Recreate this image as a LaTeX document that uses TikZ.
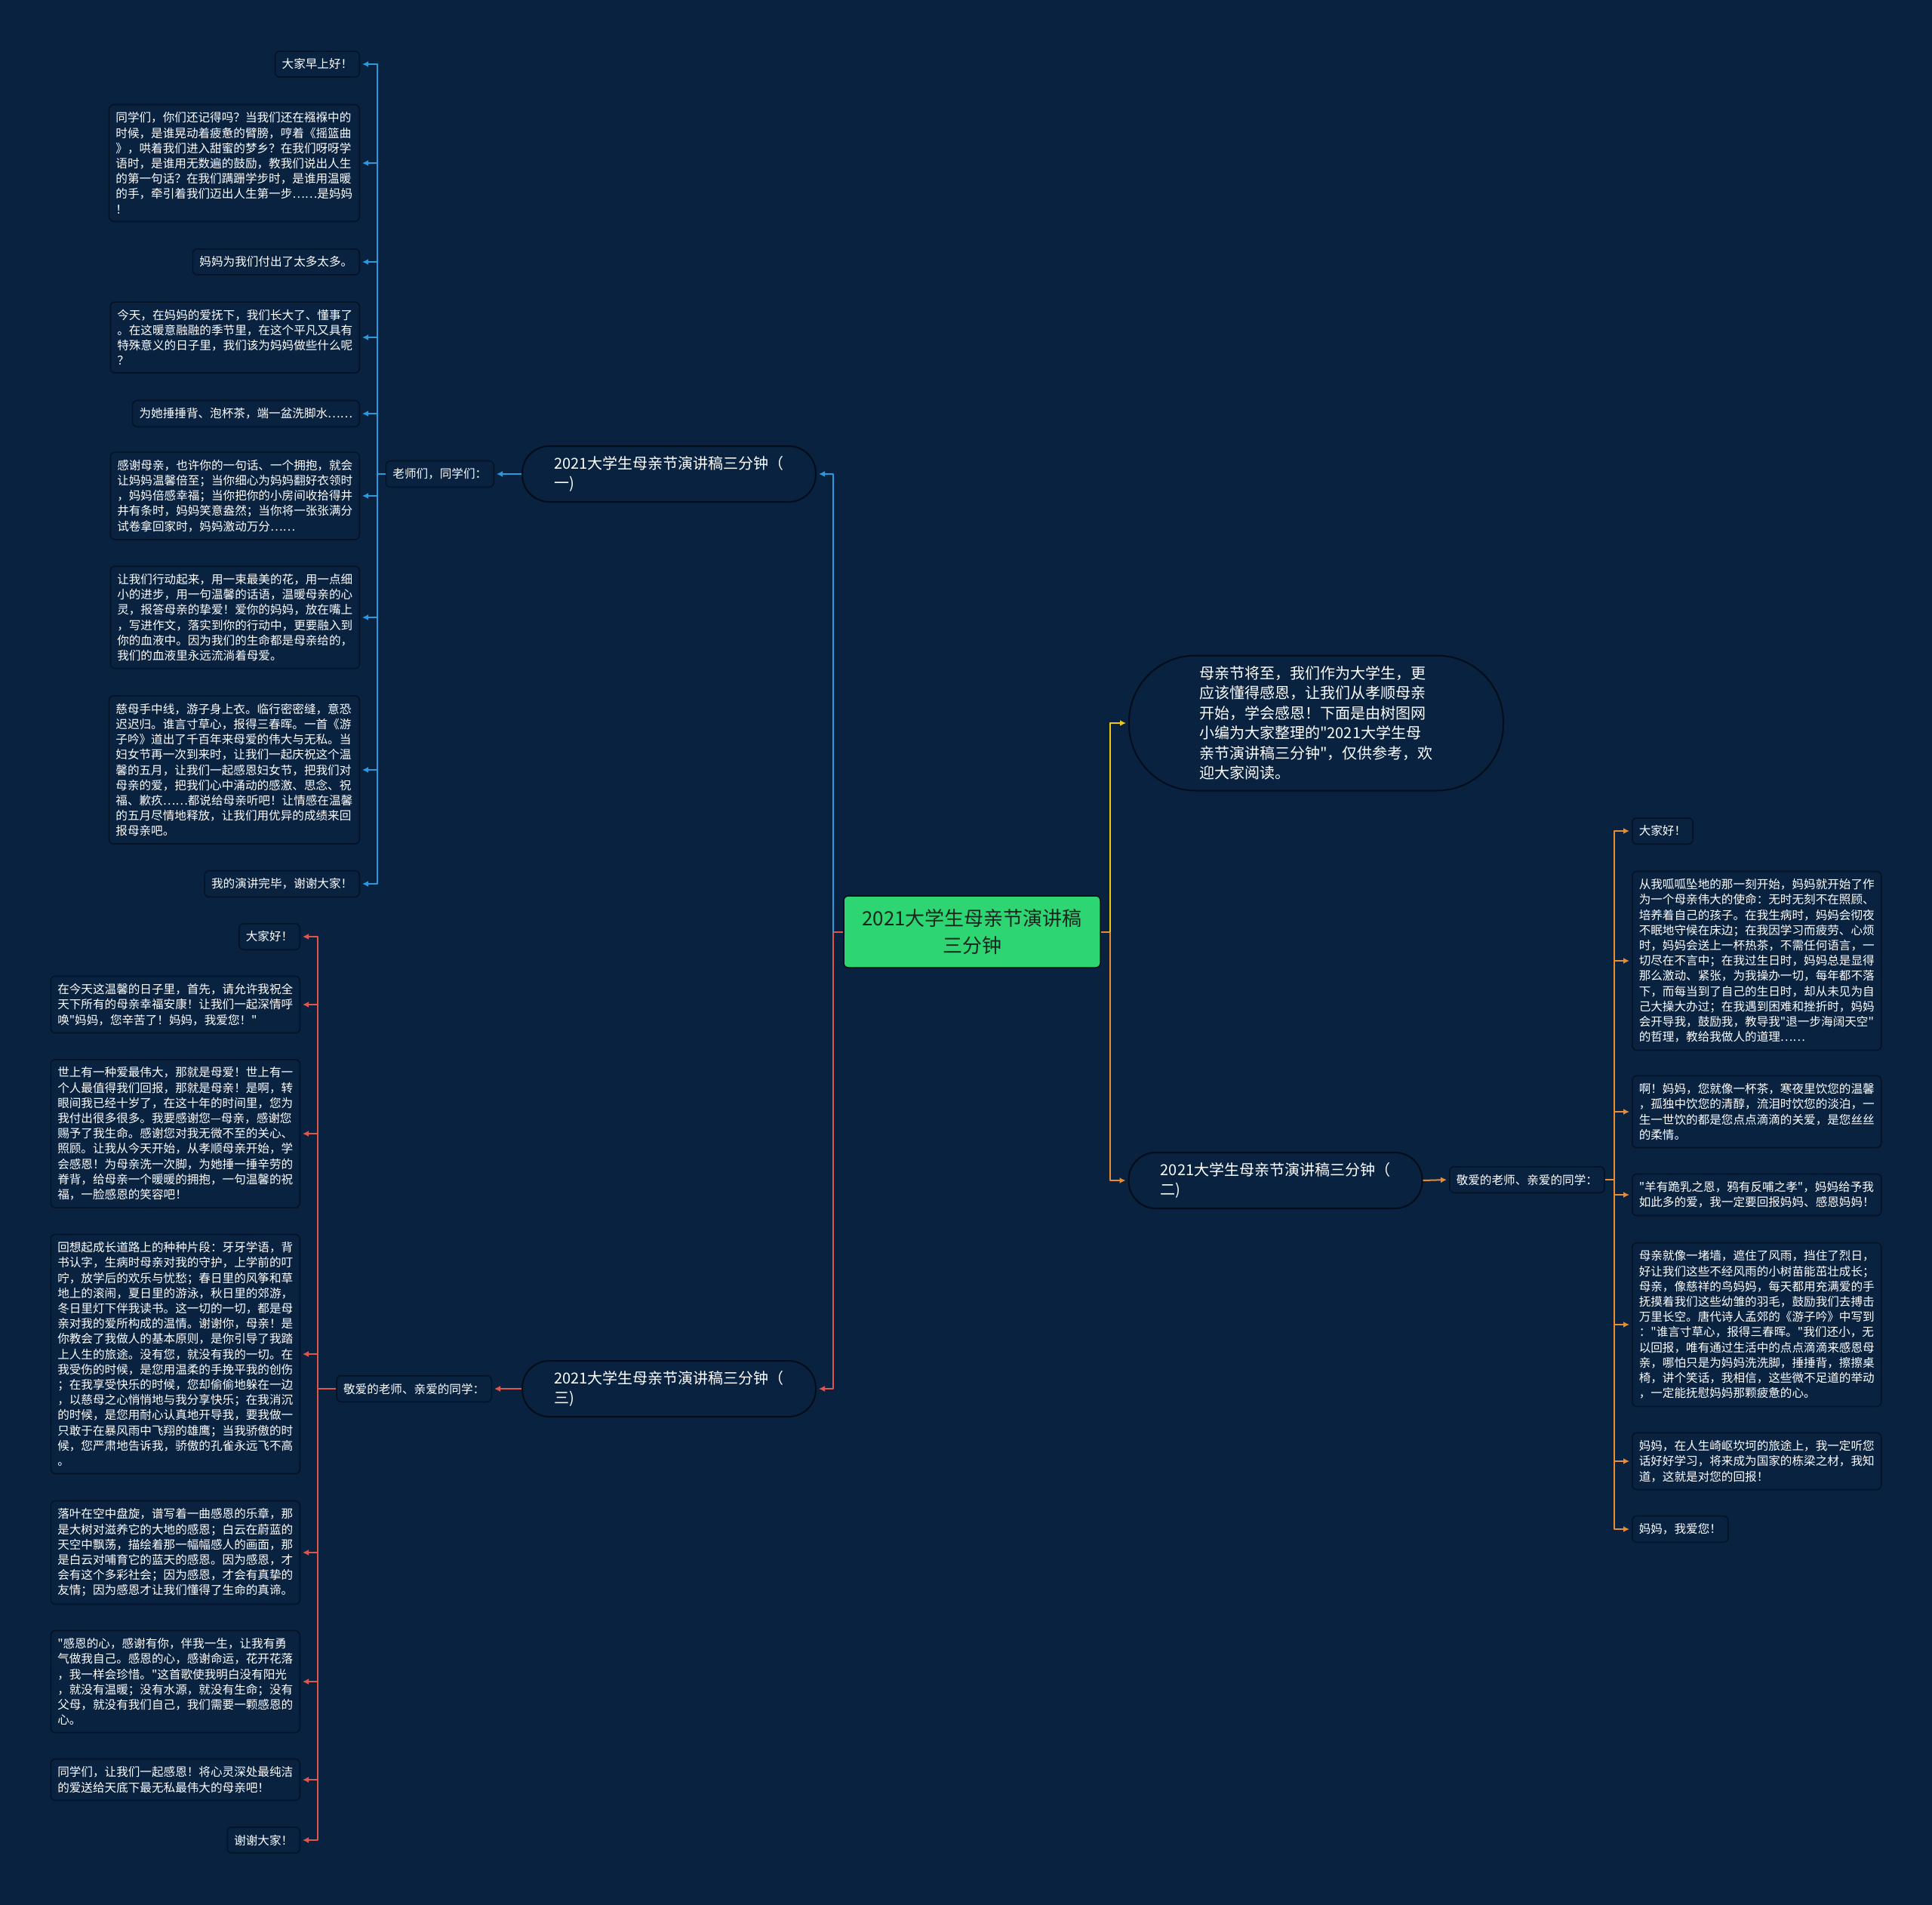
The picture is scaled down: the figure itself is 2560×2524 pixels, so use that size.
\documentclass[tikz,border=0pt]{standalone}
\usepackage{fontspec}
\setmainfont{Noto Sans CJK SC}[Ligatures=TeXOff]
\usetikzlibrary{arrows.meta}
\definecolor{bg}{RGB}{9,34,64}
\definecolor{boxline}{RGB}{4,18,36}
\definecolor{pillline}{RGB}{3,12,25}
\definecolor{cblue}{RGB}{45,152,220}
\definecolor{cred}{RGB}{224,86,76}
\definecolor{cyellow}{RGB}{242,200,17}
\definecolor{corange}{RGB}{235,140,50}
\definecolor{cgreen}{RGB}{46,213,115}
\definecolor{ctext}{RGB}{22,40,30}
\tikzset{
  leaf/.style={draw=boxline, fill=bg, line width=1.5pt, rounded corners=6pt, text=white,
    font={\fontsize{15.6}{20.2}\selectfont}, align=left, inner xsep=9pt, inner ysep=10pt},
  pill/.style={draw=pillline, fill=bg, line width=2pt, text=white,
    font={\fontsize{20}{26.5}\selectfont}, align=left},
  rootbox/.style={draw=pillline, fill=cgreen, line width=1.5pt, rounded corners=6pt, text=ctext,
    font={\fontsize{26}{36}\selectfont}, align=center, minimum width=340pt, minimum height=95pt},
  conn/.style={line width=2pt, line join=round},
  arr/.style={-{Latex[length=8pt,width=8pt]}, shorten >=3pt},
}
\begin{document}
\begin{tikzpicture}[x=1pt,y=-1pt]
\useasboundingbox (0,0) rectangle (2560,2524);
\fill[bg] (0,0) rectangle (2560,2524);

% root
\node[rootbox] (root) at (1288,1234.5) {2021大学生母亲节演讲稿\\三分钟};

% branch pills
\node[pill, minimum width=389pt, minimum height=74pt, rounded corners=36pt] (b1) at (886.5,628) {2021大学生母亲节演讲稿三分钟（\\一)};
\node[pill, minimum width=389pt, minimum height=74pt, rounded corners=36pt] (b3) at (886.5,1840) {2021大学生母亲节演讲稿三分钟（\\三)};
\node[pill, minimum width=389pt, minimum height=74pt, rounded corners=36pt] (b2) at (1690,1564) {2021大学生母亲节演讲稿三分钟（\\二)};
\node[pill, minimum width=496pt, minimum height=179pt, rounded corners=88pt] (intro) at (1744,958) {母亲节将至，我们作为大学生，更\\应该懂得感恩，让我们从孝顺母亲\\开始，学会感恩！下面是由树图网\\小编为大家整理的"2021大学生母\\亲节演讲稿三分钟"，仅供参考，欢\\迎大家阅读。};

% labels
\node[leaf, anchor=east] (lab1) at (655,628) {老师们，同学们：};
\node[leaf, anchor=east] (lab3) at (652,1840) {敬爱的老师、亲爱的同学：};
\node[leaf, anchor=west] (lab2) at (1920,1563) {敬爱的老师、亲爱的同学：};

% branch 1 leaves
\node[leaf, anchor=east] (l1) at (477,85) {大家早上好！};
\node[leaf, anchor=east] (l2) at (477,216) {同学们，你们还记得吗？当我们还在襁褓中的\\时候，是谁晃动着疲惫的臂膀，哼着《摇篮曲\\》，哄着我们进入甜蜜的梦乡？在我们呀呀学\\语时，是谁用无数遍的鼓励，教我们说出人生\\的第一句话？在我们蹒跚学步时，是谁用温暖\\的手，牵引着我们迈出人生第一步……是妈妈\\！};
\node[leaf, anchor=east] (l3) at (477,347) {妈妈为我们付出了太多太多。};
\node[leaf, anchor=east] (l4) at (477,447) {今天，在妈妈的爱抚下，我们长大了、懂事了\\。在这暖意融融的季节里，在这个平凡又具有\\特殊意义的日子里，我们该为妈妈做些什么呢\\？};
\node[leaf, anchor=east] (l5) at (477,548) {为她捶捶背、泡杯茶，端一盆洗脚水……};
\node[leaf, anchor=east] (l6) at (477,657) {感谢母亲，也许你的一句话、一个拥抱，就会\\让妈妈温馨倍至；当你细心为妈妈翻好衣领时\\，妈妈倍感幸福；当你把你的小房间收拾得井\\井有条时，妈妈笑意盎然；当你将一张张满分\\试卷拿回家时，妈妈激动万分……};
\node[leaf, anchor=east] (l7) at (477,818) {让我们行动起来，用一束最美的花，用一点细\\小的进步，用一句温馨的话语，温暖母亲的心\\灵，报答母亲的挚爱！爱你的妈妈，放在嘴上\\，写进作文，落实到你的行动中，更要融入到\\你的血液中。因为我们的生命都是母亲给的，\\我们的血液里永远流淌着母爱。};
\node[leaf, anchor=east] (l8) at (477,1020) {慈母手中线，游子身上衣。临行密密缝，意恐\\迟迟归。谁言寸草心，报得三春晖。一首《游\\子吟》道出了千百年来母爱的伟大与无私。当\\妇女节再一次到来时，让我们一起庆祝这个温\\馨的五月，让我们一起感恩妇女节，把我们对\\母亲的爱，把我们心中涌动的感激、思念、祝\\福、歉疚……都说给母亲听吧！让情感在温馨\\的五月尽情地释放，让我们用优异的成绩来回\\报母亲吧。};
\node[leaf, anchor=east] (l9) at (477,1171) {我的演讲完毕，谢谢大家！};

% branch 3 leaves
\node[leaf, anchor=east] (r1) at (398,1241) {大家好！};
\node[leaf, anchor=east] (r2) at (398,1331) {在今天这温馨的日子里，首先，请允许我祝全\\天下所有的母亲幸福安康！让我们一起深情呼\\唤"妈妈，您辛苦了！妈妈，我爱您！"};
\node[leaf, anchor=east] (r3) at (398,1502) {世上有一种爱最伟大，那就是母爱！世上有一\\个人最值得我们回报，那就是母亲！是啊，转\\眼间我已经十岁了，在这十年的时间里，您为\\我付出很多很多。我要感谢您—母亲，感谢您\\赐予了我生命。感谢您对我无微不至的关心、\\照顾。让我从今天开始，从孝顺母亲开始，学\\会感恩！为母亲洗一次脚，为她捶一捶辛劳的\\脊背，给母亲一个暖暖的拥抱，一句温馨的祝\\福，一脸感恩的笑容吧！};
\node[leaf, anchor=east] (r4) at (398,1794) {回想起成长道路上的种种片段：牙牙学语，背\\书认字，生病时母亲对我的守护，上学前的叮\\咛，放学后的欢乐与忧愁；春日里的风筝和草\\地上的滚闹，夏日里的游泳，秋日里的郊游，\\冬日里灯下伴我读书。这一切的一切，都是母\\亲对我的爱所构成的温情。谢谢你，母亲！是\\你教会了我做人的基本原则，是你引导了我踏\\上人生的旅途。没有您，就没有我的一切。在\\我受伤的时候，是您用温柔的手挽平我的创伤\\；在我享受快乐的时候，您却偷偷地躲在一边\\，以慈母之心悄悄地与我分享快乐；在我消沉\\的时候，是您用耐心认真地开导我，要我做一\\只敢于在暴风雨中飞翔的雄鹰；当我骄傲的时\\候，您严肃地告诉我，骄傲的孔雀永远飞不高\\。};
\node[leaf, anchor=east] (r5) at (398,2057) {落叶在空中盘旋，谱写着一曲感恩的乐章，那\\是大树对滋养它的大地的感恩；白云在蔚蓝的\\天空中飘荡，描绘着那一幅幅感人的画面，那\\是白云对哺育它的蓝天的感恩。因为感恩，才\\会有这个多彩社会；因为感恩，才会有真挚的\\友情；因为感恩才让我们懂得了生命的真谛。};
\node[leaf, anchor=east] (r6) at (398,2228) {"感恩的心，感谢有你，伴我一生，让我有勇\\气做我自己。感恩的心，感谢命运，花开花落\\，我一样会珍惜。"这首歌使我明白没有阳光\\，就没有温暖；没有水源，就没有生命；没有\\父母，就没有我们自己，我们需要一颗感恩的\\心。};
\node[leaf, anchor=east] (r7) at (398,2358) {同学们，让我们一起感恩！将心灵深处最纯洁\\的爱送给天底下最无私最伟大的母亲吧！};
\node[leaf, anchor=east] (r8) at (398,2438) {谢谢大家！};

% branch 2 leaves
\node[leaf, anchor=west] (s1) at (2162,1101) {大家好！};
\node[leaf, anchor=west] (s2) at (2162,1273) {从我呱呱坠地的那一刻开始，妈妈就开始了作\\为一个母亲伟大的使命：无时无刻不在照顾、\\培养着自己的孩子。在我生病时，妈妈会彻夜\\不眠地守候在床边；在我因学习而疲劳、心烦\\时，妈妈会送上一杯热茶，不需任何语言，一\\切尽在不言中；在我过生日时，妈妈总是显得\\那么激动、紧张，为我操办一切，每年都不落\\下，而每当到了自己的生日时，却从未见为自\\己大操大办过；在我遇到困难和挫折时，妈妈\\会开导我，鼓励我，教导我"退一步海阔天空"\\的哲理，教给我做人的道理……};
\node[leaf, anchor=west] (s3) at (2162,1473) {啊！妈妈，您就像一杯茶，寒夜里饮您的温馨\\，孤独中饮您的清醇，流泪时饮您的淡泊，一\\生一世饮的都是您点点滴滴的关爱，是您丝丝\\的柔情。};
\node[leaf, anchor=west] (s4) at (2162,1583) {"羊有跪乳之恩，鸦有反哺之孝"，妈妈给予我\\如此多的爱，我一定要回报妈妈、感恩妈妈！};
\node[leaf, anchor=west] (s5) at (2162,1755) {母亲就像一堵墙，遮住了风雨，挡住了烈日，\\好让我们这些不经风雨的小树苗能茁壮成长；\\母亲，像慈祥的鸟妈妈，每天都用充满爱的手\\抚摸着我们这些幼雏的羽毛，鼓励我们去搏击\\万里长空。唐代诗人孟郊的《游子吟》中写到\\："谁言寸草心，报得三春晖。"我们还小，无\\以回报，唯有通过生活中的点点滴滴来感恩母\\亲，哪怕只是为妈妈洗洗脚，捶捶背，擦擦桌\\椅，讲个笑话，我相信，这些微不足道的举动\\，一定能抚慰妈妈那颗疲惫的心。};
\node[leaf, anchor=west] (s6) at (2162,1936) {妈妈，在人生崎岖坎坷的旅途上，我一定听您\\话好好学习，将来成为国家的栋梁之材，我知\\道，这就是对您的回报！};
\node[leaf, anchor=west] (s7) at (2162,2026) {妈妈，我爱您！};

% junction coordinates
\coordinate (cl) at (1104,1234.5);
\coordinate (cr) at (1471,1234.5);
\coordinate (v1) at (500,628);
\coordinate (v3) at (421,1840);
\coordinate (v2) at (2139,1563);

% root connectors
\draw[conn, cred] (root.west) -- (cl);
\draw[conn, cblue, arr] (cl) |- (b1.east);
\draw[conn, cred, arr] (cl) |- (b3.east);
\draw[conn, corange] (root.east) -- (cr);
\draw[conn, cyellow, arr] (cr) |- (intro.west);
\draw[conn, corange, arr] (cr) |- (b2.west);

% branch to label
\draw[conn, cblue, arr] (b1.west) -- (lab1.east);
\draw[conn, cred, arr] (b3.west) -- (lab3.east);
\draw[conn, corange, arr] (b2.east) -- (lab2.west);

% label to leaves
\draw[conn, cblue] (lab1.west) -- (v1);
\foreach \n in {l1,l2,l3,l4,l5,l6,l7,l8,l9}
  \draw[conn, cblue, arr] (v1) |- (\n.east);
\draw[conn, cred] (lab3.west) -- (v3);
\foreach \n in {r1,r2,r3,r4,r5,r6,r7,r8}
  \draw[conn, cred, arr] (v3) |- (\n.east);
\draw[conn, corange] (lab2.east) -- (v2);
\foreach \n in {s1,s2,s3,s4,s5,s6,s7}
  \draw[conn, corange, arr] (v2) |- (\n.west);
\end{tikzpicture}
\end{document}
